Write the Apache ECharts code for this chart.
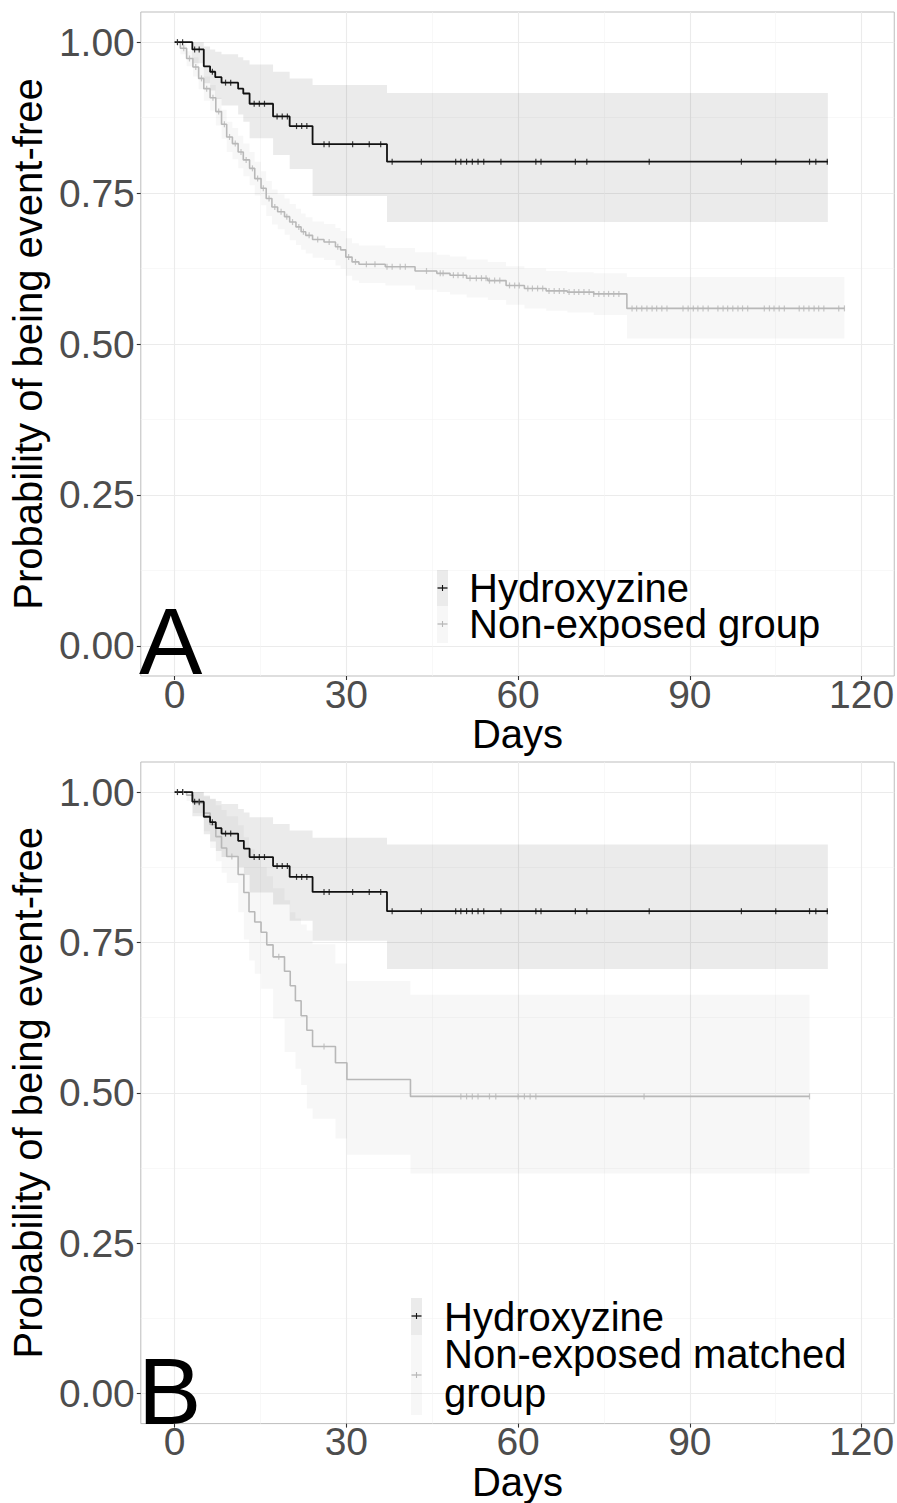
<!DOCTYPE html>
<html><head><meta charset="utf-8">
<script src="https://cdn.jsdelivr.net/npm/echarts@6/dist/echarts.min.js"></script>
<style>html,body{margin:0;padding:0;background:#fff}#c{width:897px;height:1503px}</style>
</head><body><div id="c"></div>
<script>
// ---------- axis ticks ----------
const xTicks = [0, 30, 60, 90, 120];
const xMinorTicks = [15, 45, 75, 105];
const yTicks = [0, 0.25, 0.5, 0.75, 1];
const yMinorTicks = [0.125, 0.375, 0.625, 0.875];

// ---------- Panel A : Hydroxyzine ----------
const aHydTime  = [0, 3.1, 5.1, 6.2, 7.1, 8.2, 11.1, 12.0, 13.1, 17.2, 20.1, 24.1, 37.1];
const aHydSurv  = [1, 0.988, 0.960, 0.951, 0.942, 0.933, 0.923, 0.915, 0.898, 0.877, 0.861, 0.831, 0.802];
const aHydUpper = [1, 1, 0.993, 0.988, 0.984, 0.980, 0.975, 0.970, 0.963, 0.951, 0.940, 0.929, 0.916];
const aHydLower = [1, 0.965, 0.932, 0.920, 0.906, 0.895, 0.880, 0.868, 0.841, 0.813, 0.790, 0.745, 0.702];
const aHydEnd = 114.1;
const aHydCensor = [0.5, 1.4, 3.5, 4.3, 6.6, 8.9, 9.8, 13.9, 14.8, 15.7, 17.9, 18.8, 19.7, 21.3, 22.2, 23.1, 26.1, 27.0, 31.1, 34.0, 36.0, 38.0, 43.1, 49.1, 50.0, 51.0, 52.0, 53.0, 54.0, 57.0, 63.1, 64.0, 70.0, 72.0, 82.9, 99.0, 105.0, 110.9, 112.0, 114.0];

// ---------- Panel A : Non-exposed group ----------
const aNonTime  = [0, 1.0, 2.1, 3.2, 4.2, 5.1, 6.2, 7.2, 8.2, 9.1, 10.1, 11.1, 12.0, 13.1, 14.0, 15.1, 16.0, 17.0, 18.0, 19.2, 20.1, 21.2, 22.1, 22.9, 24.1, 26.1, 28.1, 29.0, 29.9, 31.0, 32.2, 36.8, 42.0, 45.8, 48.1, 51.0, 54.7, 57.9, 61.1, 64.9, 68.6, 73.2, 79.0];
const aNonSurv  = [1, 0.990, 0.973, 0.959, 0.940, 0.923, 0.908, 0.885, 0.864, 0.843, 0.832, 0.818, 0.805, 0.791, 0.774, 0.758, 0.741, 0.727, 0.719, 0.711, 0.702, 0.694, 0.686, 0.680, 0.673, 0.669, 0.661, 0.656, 0.644, 0.636, 0.632, 0.628, 0.621, 0.617, 0.614, 0.609, 0.605, 0.597, 0.592, 0.588, 0.586, 0.583, 0.559];
const aNonUpper = [1, 1, 0.985, 0.975, 0.958, 0.943, 0.929, 0.908, 0.888, 0.868, 0.858, 0.845, 0.832, 0.818, 0.802, 0.786, 0.770, 0.756, 0.748, 0.741, 0.732, 0.724, 0.716, 0.710, 0.703, 0.699, 0.692, 0.687, 0.675, 0.667, 0.663, 0.659, 0.652, 0.648, 0.645, 0.640, 0.636, 0.629, 0.625, 0.621, 0.619, 0.617, 0.611];
const aNonLower = [1, 0.980, 0.960, 0.943, 0.922, 0.903, 0.887, 0.862, 0.840, 0.818, 0.806, 0.791, 0.778, 0.763, 0.746, 0.730, 0.712, 0.698, 0.690, 0.681, 0.672, 0.664, 0.656, 0.650, 0.643, 0.639, 0.630, 0.625, 0.613, 0.605, 0.601, 0.597, 0.590, 0.586, 0.582, 0.577, 0.573, 0.565, 0.559, 0.555, 0.552, 0.548, 0.509];
const aNonEnd = 117.0;
const aNonCensor = [0.5, 1.6, 2.6, 3.7, 4.7, 5.6, 6.7, 7.7, 8.7, 9.6, 10.6, 11.6, 12.5, 13.6, 14.5, 15.5, 16.5, 17.5, 18.6, 19.6, 20.6, 21.7, 22.5, 23.5, 25.0, 27.0, 28.5, 30.4, 31.6, 33.5, 35.0, 37.1, 38.0, 39.4, 40.3, 44.0, 46.4, 46.9, 48.7, 49.5, 50.4, 51.6, 52.7, 53.6, 54.4, 55.0, 55.9, 56.8, 58.5, 59.4, 60.2, 61.7, 62.5, 63.4, 64.3, 65.4, 66.3, 67.2, 68.0, 68.9, 69.8, 70.6, 71.5, 72.4, 73.2, 74.1, 75.0, 75.8, 76.7, 77.6, 79.9, 80.7, 81.6, 82.5, 83.4, 84.2, 85.1, 86.0, 88.8, 89.7, 90.6, 91.4, 92.3, 93.2, 94.9, 95.8, 96.6, 97.5, 98.4, 99.2, 100.1, 103.0, 103.9, 104.7, 105.6, 106.5, 109.1, 109.9, 110.8, 111.7, 112.5, 113.4, 116.0, 117.0];

// ---------- Panel B : Hydroxyzine ----------
const bHydTime  = [0, 3.1, 5.1, 6.2, 7.2, 8.2, 11.1, 12.1, 13.1, 17.2, 20.1, 24.1, 37.1];
const bHydSurv  = [1, 0.984, 0.959, 0.950, 0.940, 0.931, 0.919, 0.906, 0.892, 0.877, 0.859, 0.834, 0.802];
const bHydUpper = [1, 1, 0.993, 0.989, 0.985, 0.980, 0.972, 0.966, 0.958, 0.947, 0.936, 0.924, 0.913];
const bHydLower = [1, 0.960, 0.930, 0.918, 0.902, 0.892, 0.875, 0.862, 0.833, 0.813, 0.786, 0.753, 0.706];
const bHydEnd = 114.1;
const bHydCensor = [0.5, 1.4, 3.5, 4.3, 6.6, 8.9, 9.8, 13.9, 14.8, 15.7, 17.9, 18.8, 19.7, 21.3, 22.2, 23.1, 26.1, 27.0, 31.1, 34.0, 36.0, 38.0, 43.1, 49.1, 50.0, 51.0, 52.0, 53.0, 54.0, 57.0, 63.1, 64.0, 70.0, 72.0, 82.9, 99.0, 105.0, 110.9, 112.0, 114.0];

// ---------- Panel B : Non-exposed matched group ----------
const bNonTime  = [0, 2.1, 3.2, 5.1, 6.2, 7.2, 8.2, 9.1, 11.1, 12.1, 13.0, 14.0, 15.1, 16.1, 17.2, 19.2, 20.2, 21.1, 22.1, 23.1, 24.1, 28.1, 30.1, 41.2];
const bNonSurv  = [1, 0.995, 0.982, 0.965, 0.946, 0.926, 0.907, 0.893, 0.863, 0.833, 0.801, 0.784, 0.767, 0.746, 0.726, 0.702, 0.678, 0.653, 0.628, 0.604, 0.577, 0.550, 0.522, 0.494];
const bNonUpper = [1, 1, 1, 0.995, 0.988, 0.978, 0.970, 0.960, 0.945, 0.925, 0.905, 0.890, 0.875, 0.860, 0.840, 0.820, 0.800, 0.790, 0.780, 0.770, 0.747, 0.715, 0.686, 0.663];
const bNonLower = [1, 0.985, 0.965, 0.935, 0.907, 0.885, 0.866, 0.849, 0.800, 0.755, 0.720, 0.698, 0.673, 0.673, 0.623, 0.568, 0.568, 0.540, 0.513, 0.474, 0.457, 0.424, 0.397, 0.366];
const bNonEnd = 110.9;
const bNonCensor = [0.5, 1.5, 4.3, 10.0, 18.2, 26.1, 50.0, 51.0, 52.0, 53.0, 55.0, 56.1, 60.0, 61.1, 62.1, 63.1, 82.0, 110.9];

// ---------- labels ----------
const yTitle = 'Probability of being event-free';
const xTitle = 'Days';
const aLegend = ['Hydroxyzine', 'Non-exposed group'];
const bLegend = ['Hydroxyzine', 'Non-exposed matched', 'group'];

// ---------- helpers ----------
const FONT = '"Liberation Sans", Arial, sans-serif';
const BLACK_BAND = 'rgba(0,0,0,0.078)';
const GREY_BAND = 'rgba(0,0,0,0.03)';
const BLACK_LINE = '#111111';
const GREY_LINE = '#b8b8b8';

function stepData(times, surv, end) {
  const d = times.map((t, i) => [t, surv[i]]);
  d.push([end, surv[surv.length - 1]]);
  return d;
}
function bandPoints(times, hi, lo, end) {
  const up = [], dn = [];
  for (let i = 0; i < times.length; i++) {
    const t1 = i + 1 < times.length ? times[i + 1] : end;
    up.push([times[i], hi[i]], [t1, hi[i]]);
    dn.push([times[i], lo[i]], [t1, lo[i]]);
  }
  return up.concat(dn.reverse());
}
function survAt(times, surv, c) {
  let k = 0;
  for (let i = 0; i < times.length; i++) if (times[i] <= c) k = i;
  return surv[k];
}
function bandSeries(ax, times, hi, lo, end, fill) {
  const pts = bandPoints(times, hi, lo, end);
  return {
    type: 'custom', xAxisIndex: ax, yAxisIndex: ax, silent: true, z: 1,
    data: [[times[0], hi[0]]],
    renderItem: function (params, api) {
      return { type: 'polygon', shape: { points: pts.map(p => api.coord(p)) }, style: { fill: fill } };
    }
  };
}
function lineSeries(ax, times, surv, end, color, width, z) {
  return {
    type: 'line', xAxisIndex: ax, yAxisIndex: ax, step: 'end', symbol: 'none', z: z,
    data: stepData(times, surv, end), lineStyle: { color: color, width: width }, silent: true
  };
}
function censorSeries(ax, times, surv, cens, color, z) {
  return {
    type: 'scatter', xAxisIndex: ax, yAxisIndex: ax, symbol: 'rect', symbolSize: [1.2, 6], z: z,
    itemStyle: { color: color }, silent: true,
    data: cens.map(c => [c, survAt(times, surv, c)])
  };
}

const grids = [
  { left: 137, top: 12, width: 759, height: 664 },
  { left: 137, top: 762, width: 759, height: 664.5 }
];
function mainX(g) {
  return {
    type: 'value', gridIndex: g, min: -5.9, max: 125.7, position: 'bottom',
    axisLine: { show: false, onZero: false },
    axisTick: { show: true, customValues: xTicks, length: 4, lineStyle: { color: '#333', width: 1.1 } },
    axisLabel: { customValues: xTicks, fontSize: 39, lineHeight: 30, color: '#4d4d4d', margin: 3, fontFamily: FONT, formatter: v => String(v) },
    splitLine: { show: true, lineStyle: { color: '#ebebeb', width: 1.1 } },
    name: xTitle, nameLocation: 'middle', nameGap: 33,
    nameTextStyle: { fontSize: 40, lineHeight: 34, color: '#000', fontFamily: FONT }
  };
}
function minorX(g) {
  return {
    type: 'value', gridIndex: g, min: -5.9, max: 125.7, position: 'top',
    axisLine: { show: false, onZero: false }, axisLabel: { show: false },
    axisTick: { show: false, customValues: xMinorTicks },
    splitLine: { show: true, lineStyle: { color: '#f4f4f4', width: 0.6 } }
  };
}
function mainY(g) {
  return {
    type: 'value', gridIndex: g, min: -0.05, max: 1.05, position: 'left',
    axisLine: { show: false, onZero: false },
    axisTick: { show: true, customValues: yTicks, length: 4, lineStyle: { color: '#333', width: 1.1 } },
    axisLabel: { customValues: yTicks, fontSize: 39, lineHeight: 30, color: '#4d4d4d', margin: 6, fontFamily: FONT, formatter: v => v.toFixed(2) },
    splitLine: { show: true, lineStyle: { color: '#ebebeb', width: 1.1 } },
    name: yTitle, nameLocation: 'middle', nameGap: 82,
    nameTextStyle: { fontSize: 40, color: '#000', fontFamily: FONT }
  };
}
function minorY(g) {
  return {
    type: 'value', gridIndex: g, min: -0.05, max: 1.05, position: 'right',
    axisLine: { show: false, onZero: false }, axisLabel: { show: false },
    axisTick: { show: false, customValues: yMinorTicks },
    splitLine: { show: true, lineStyle: { color: '#f4f4f4', width: 0.6 } }
  };
}

function txt(x, y, s, size, lh) {
  return { type: 'text', x: x, y: y, silent: true, z: 100,
    style: { text: s, fontSize: size, lineHeight: lh, fontFamily: FONT, fill: '#000', align: 'left', verticalAlign: 'middle' } };
}
function keyRect(x, y, w, h, fill) {
  return { type: 'rect', silent: true, z: 90, shape: { x: x, y: y, width: w, height: h }, style: { fill: fill } };
}
function keyPlus(cx, cy, color) {
  return [
    { type: 'line', silent: true, z: 95, shape: { x1: cx - 5, y1: cy, x2: cx + 5, y2: cy }, style: { stroke: color, lineWidth: 1.3 } },
    { type: 'line', silent: true, z: 95, shape: { x1: cx, y1: cy - 3, x2: cx, y2: cy + 3 }, style: { stroke: color, lineWidth: 1.1 } }
  ];
}

const graphics = [
  // panel letters
  txt(139, 641, 'A', 95, 70),
  txt(138, 1391, 'B', 95, 70),
  // legend A
  keyRect(437, 570, 11, 36, BLACK_BAND),
  keyRect(437, 606, 11, 37, GREY_BAND),
  ...keyPlus(442.5, 588, BLACK_LINE),
  ...keyPlus(442.5, 624, GREY_LINE),
  txt(469, 587.5, aLegend[0], 40, 34),
  txt(469, 624, aLegend[1], 40, 34),
  // legend B
  keyRect(411, 1298, 11, 37, BLACK_BAND),
  keyRect(411, 1335, 11, 80, GREY_BAND),
  ...keyPlus(416.5, 1316, BLACK_LINE),
  ...keyPlus(416.5, 1375, GREY_LINE),
  txt(444, 1317, bLegend[0], 40, 34),
  txt(444, 1354, bLegend[1], 40, 34),
  txt(444, 1393, bLegend[2], 40, 34)
];

const chart = echarts.init(document.getElementById('c'), null, { renderer: 'svg' });
chart.setOption({
  animation: false,
  backgroundColor: '#fff',
  textStyle: { fontFamily: FONT },
  grid: grids.map(g => Object.assign({ show: true, borderColor: '#bdbdbd', borderWidth: 1, backgroundColor: 'transparent', containLabel: false }, g)),
  xAxis: [mainX(0), minorX(0), mainX(1), minorX(1)],
  yAxis: [mainY(0), minorY(0), mainY(1), minorY(1)],
  series: [
    bandSeries(0, aHydTime, aHydUpper, aHydLower, aHydEnd, BLACK_BAND),
    bandSeries(0, aNonTime, aNonUpper, aNonLower, aNonEnd, GREY_BAND),
    lineSeries(0, aNonTime, aNonSurv, aNonEnd, GREY_LINE, 1.6, 3),
    lineSeries(0, aHydTime, aHydSurv, aHydEnd, BLACK_LINE, 1.8, 4),
    censorSeries(0, aNonTime, aNonSurv, aNonCensor, GREY_LINE, 5),
    censorSeries(0, aHydTime, aHydSurv, aHydCensor, BLACK_LINE, 6),

    bandSeries(2, bHydTime, bHydUpper, bHydLower, bHydEnd, BLACK_BAND),
    bandSeries(2, bNonTime, bNonUpper, bNonLower, bNonEnd, GREY_BAND),
    lineSeries(2, bNonTime, bNonSurv, bNonEnd, GREY_LINE, 1.6, 3),
    lineSeries(2, bHydTime, bHydSurv, bHydEnd, BLACK_LINE, 1.8, 4),
    censorSeries(2, bNonTime, bNonSurv, bNonCensor, GREY_LINE, 5),
    censorSeries(2, bHydTime, bHydSurv, bHydCensor, BLACK_LINE, 6)
  ],
  graphic: graphics
});
</script>
</body></html>
